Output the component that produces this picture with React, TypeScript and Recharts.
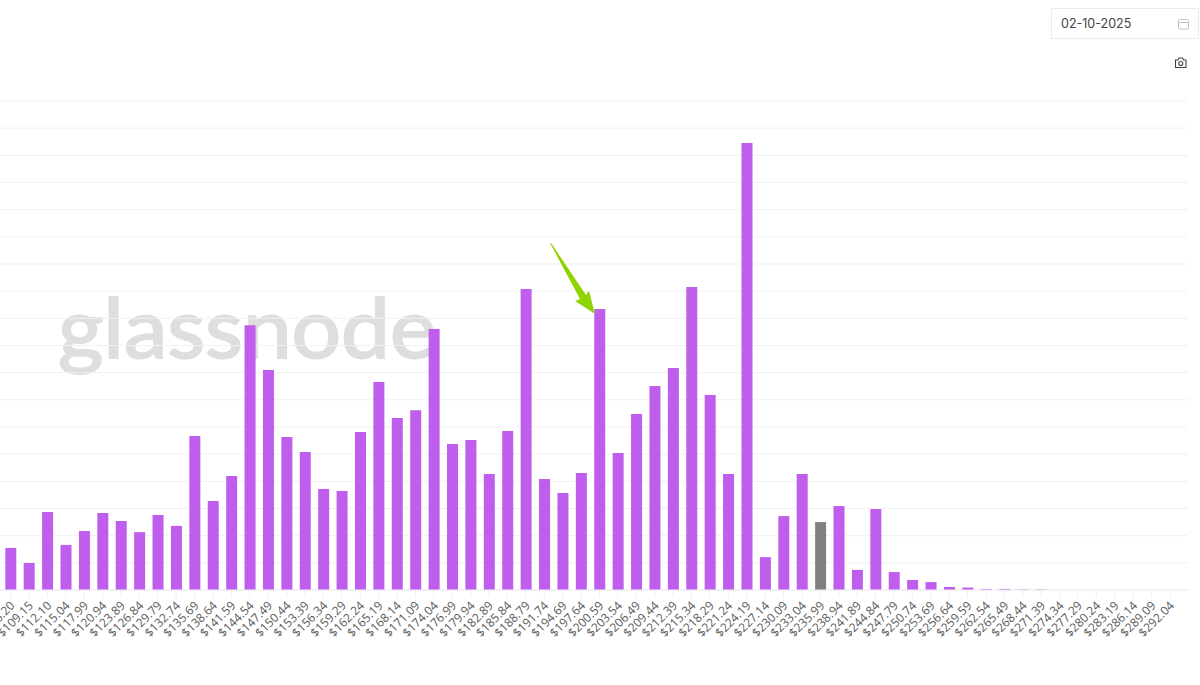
import { Bar, BarChart, CartesianGrid, Cell, XAxis, YAxis } from "recharts";

const prices = [
  "$106.20", "$109.15", "$112.10", "$115.04", "$117.99", "$120.94", "$123.89", "$126.84",
  "$129.79", "$132.74", "$135.69", "$138.64", "$141.59", "$144.54", "$147.49", "$150.44",
  "$153.39", "$156.34", "$159.29", "$162.24", "$165.19", "$168.14", "$171.09", "$174.04",
  "$176.99", "$179.94", "$182.89", "$185.84", "$188.79", "$191.74", "$194.69", "$197.64",
  "$200.59", "$203.54", "$206.49", "$209.44", "$212.39", "$215.34", "$218.29", "$221.24",
  "$224.19", "$227.14", "$230.09", "$233.04", "$235.99", "$238.94", "$241.89", "$244.84",
  "$247.79", "$250.74", "$253.69", "$256.64", "$259.59", "$262.54", "$265.49", "$268.44",
  "$271.39", "$274.34", "$277.29", "$280.24", "$283.19", "$286.14", "$289.09", "$292.04"
];

const supply = [
  155, 99, 287, 166, 217, 283, 254, 213,
  276, 236, 567, 328, 420, 975, 810, 563,
  508, 372, 364, 582, 766, 633, 662, 961,
  537, 552, 427, 585, 1108, 409, 357, 431,
  1034, 504, 648, 751, 817, 1115, 718, 427,
  1645, 121, 272, 427, 250, 309, 74, 298,
  66, 37, 29, 11, 9, 4, 4, 2,
  2, 0, 0, 0, 0, 0, 0, 0
];

const gridTicks = [
  0, 100, 200, 300, 400, 500, 600, 700, 800, 900,
  1000, 1100, 1200, 1300, 1400, 1500, 1600, 1700, 1800
];

// the bar holding the current price is drawn grey
const currentPrice = "$235.99";

const data = prices.map((price, index) => ({ price, supply: supply[index] }));

function PriceTick({ x, y, payload }: any) {
  return (
    <text
      x={x}
      y={y}
      dx={-1}
      dy={8}
      textAnchor="end"
      fontSize={12}
      fontFamily="Open Sans"
      fill="#5a5a5a"
      transform={`rotate(-45 ${x} ${y})`}
    >
      {payload.value}
    </text>
  );
}

function DateField() {
  return (
    <div
      style={{
        position: "absolute",
        left: 1051,
        top: 8,
        width: 148,
        height: 31,
        boxSizing: "border-box",
        border: "1px solid #ececec",
        fontFamily: "Inter",
        fontSize: 12.5,
        lineHeight: "29px",
        paddingLeft: 9,
        color: "#444444"
      }}
    >
      02-10-2025
      <svg width="12" height="12" style={{ position: "absolute", left: 126, top: 9 }}>
        <rect x="0.5" y="1.5" width="10" height="9.5" rx="1" fill="none" stroke="#c4c4c4" />
        <line x1="0.5" y1="4.5" x2="10.5" y2="4.5" stroke="#c4c4c4" />
      </svg>
    </div>
  );
}

function CameraIcon() {
  return (
    <svg width="14" height="12" style={{ position: "absolute", left: 1174, top: 57 }}>
      <path
        d="M1.5 3 H4 L5 1 H8.5 L9.5 3 H12 V10.5 H1.5 Z"
        fill="none"
        stroke="#444444"
        strokeWidth="1.1"
      />
      <circle cx="6.8" cy="6.5" r="2" fill="none" stroke="#444444" strokeWidth="1.1" />
    </svg>
  );
}

export default function App() {
  return (
    <div
      style={{
        position: "absolute",
        left: 0,
        top: 0,
        width: 1200,
        height: 685,
        overflow: "hidden",
        background: "#ffffff"
      }}
    >
      <svg width="1200" height="685" style={{ position: "absolute", left: 0, top: 0 }}>
        <text
          x="58"
          y="358"
          fontFamily="Lato"
          fontSize="84"
          fill="#dedede"
          stroke="#dedede"
          strokeWidth="2"
          textLength="378"
          lengthAdjust="spacingAndGlyphs"
        >
          glassnode
        </text>
      </svg>

      <div style={{ position: "absolute", left: -30, top: 0 }}>
        <BarChart
          width={1230}
          height={685}
          data={data}
          margin={{ top: 101, right: 12, bottom: 0, left: 0 }}
        >
          <CartesianGrid horizontal vertical={false} stroke="#f1f1f1" />
          <XAxis
            dataKey="price"
            interval={0}
            height={95}
            padding={{ left: 31.3, right: 8.8 }}
            tick={<PriceTick />}
            tickSize={8}
            tickLine={{ stroke: "#eeeeee" }}
            axisLine={{ stroke: "#eeeeee" }}
          />
          <YAxis hide domain={[0, 1800]} ticks={gridTicks} />
          <Bar dataKey="supply" barSize={11} fill="#bf5eec" isAnimationActive={false}>
            {data.map((entry) => (
              <Cell key={entry.price} fill={entry.price === currentPrice ? "#808080" : "#bf5eec"} />
            ))}
          </Bar>
        </BarChart>
      </div>

      <svg width="1200" height="685" style={{ position: "absolute", left: 0, top: 0 }}>
        <polygon points="550,243 551,243 586,295 589,291 595,314 575,301 580,299" fill="#8fd400" />
      </svg>

      <DateField />
      <CameraIcon />
    </div>
  );
}
